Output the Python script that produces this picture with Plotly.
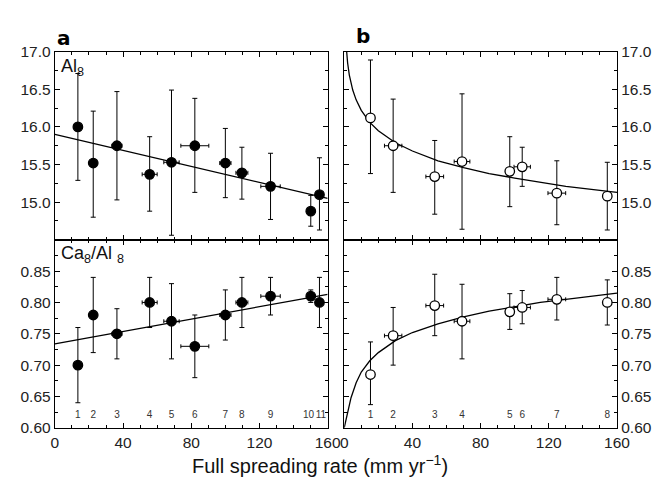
import plotly.graph_objects as go

# ---- panel a: data points (x = full spreading rate, mm/yr)
a_x = [13.5, 22.5, 36.4, 55.6, 68.4, 82.1, 100.0, 109.7, 126.5, 150.1, 155.2]
a_xerr = [0, 1.3, 3.0, 4.4, 4.5, 8.2, 3.3, 3.5, 5.7, 0, 0]
a_labels = ['1', '2', '3', '4', '5', '6', '7', '8', '9', '10', '11']
a_label_x = [13.5, 22.5, 36.4, 55.6, 68.4, 82.1, 100.0, 109.7, 126.5, 148.8, 156.0]
a_al = [16.00, 15.52, 15.75, 15.37, 15.53, 15.75, 15.52, 15.39, 15.21, 14.88, 15.10]
a_al_hi = [16.71, 16.21, 16.47, 15.87, 16.49, 16.38, 15.98, 15.73, 15.65, 15.09, 15.59]
a_al_lo = [15.29, 14.80, 15.03, 14.88, 14.56, 15.13, 15.06, 15.04, 14.77, 14.68, 14.63]
a_ca = [0.70, 0.78, 0.75, 0.80, 0.77, 0.73, 0.78, 0.80, 0.81, 0.81, 0.80]
a_ca_hi = [0.76, 0.84, 0.79, 0.84, 0.83, 0.78, 0.82, 0.84, 0.84, 0.82, 0.84]
a_ca_lo = [0.64, 0.72, 0.71, 0.76, 0.71, 0.68, 0.74, 0.76, 0.78, 0.80, 0.76]

# straight-line fits in panel a (end points)
a_fit_x = [0, 160]
a_fit_al = [15.90, 15.05]
a_fit_ca = [0.734, 0.813]

# ---- panel b
b_x = [15.4, 28.7, 53.1, 69.1, 97.1, 104.4, 124.7, 154.3]
b_xerr = [0, 5.1, 5.2, 4.6, 1.5, 4.8, 5.2, 0]
b_labels = ['1', '2', '3', '4', '5', '6', '7', '8']
b_al = [16.12, 15.75, 15.34, 15.54, 15.41, 15.47, 15.12, 15.08]
b_al_hi = [16.89, 16.37, 15.82, 16.44, 15.87, 15.73, 15.55, 15.53]
b_al_lo = [15.38, 15.13, 14.84, 14.64, 14.94, 15.21, 14.70, 14.63]
b_ca = [0.685, 0.747, 0.795, 0.770, 0.785, 0.792, 0.805, 0.800]
b_ca_hi = [0.737, 0.792, 0.845, 0.829, 0.814, 0.819, 0.840, 0.836]
b_ca_lo = [0.637, 0.700, 0.747, 0.710, 0.757, 0.766, 0.772, 0.764]

# model curves in panel b
b_al_curve_x = [0.5, 1, 2, 3, 5, 7, 10, 15, 20, 30, 40, 55, 70, 85, 100, 115, 130, 145, 160]
b_al_curve_y = [17.40, 17.12, 16.85, 16.69, 16.49, 16.36, 16.22, 16.06, 15.95, 15.79, 15.68,
                15.55, 15.46, 15.38, 15.32, 15.26, 15.21, 15.17, 15.13]
b_ca_curve_x = [0, 2, 4, 7, 10, 15, 20, 30, 40, 55, 70, 85, 100, 115, 130, 145, 160]
b_ca_curve_y = [0.600, 0.625, 0.648, 0.672, 0.689, 0.707, 0.720, 0.739, 0.752, 0.766,
                0.777, 0.786, 0.793, 0.800, 0.805, 0.810, 0.815]

FONT = 'Liberation Sans, Arial, Helvetica, sans-serif'


def pts(x, xerr, y, hi, lo, xa, ya, filled):
    return go.Scatter(
        x=x, y=y, mode='markers', xaxis=xa, yaxis=ya,
        marker=dict(size=9.5, color='black' if filled else 'white',
                    line=dict(color='black', width=1.3)),
        error_y=dict(type='data', symmetric=False,
                     array=[h - v for h, v in zip(hi, y)],
                     arrayminus=[v - l for v, l in zip(y, lo)],
                     color='black', thickness=1, width=2.5),
        error_x=dict(type='data', array=xerr, color='black', thickness=1, width=2),
        showlegend=False, hoverinfo='x+y',
    )


def line(x, y, xa, ya):
    return go.Scatter(x=x, y=y, mode='lines', xaxis=xa, yaxis=ya,
                      line=dict(color='black', width=1.3), showlegend=False,
                      hoverinfo='skip')


def nums(x, labels, ya, xa):
    return go.Scatter(x=x, y=[0.62] * len(x), text=labels, mode='text', xaxis=xa, yaxis=ya,
                      textfont=dict(size=10, color='#333', family=FONT),
                      showlegend=False, hoverinfo='skip')


fig = go.Figure()
fig.add_trace(line(a_fit_x, a_fit_al, 'x', 'y'))
fig.add_trace(pts(a_x, a_xerr, a_al, a_al_hi, a_al_lo, 'x', 'y', True))
fig.add_trace(line(a_fit_x, a_fit_ca, 'x2', 'y2'))
fig.add_trace(pts(a_x, a_xerr, a_ca, a_ca_hi, a_ca_lo, 'x2', 'y2', True))
fig.add_trace(nums(a_label_x, a_labels, 'y2', 'x2'))
fig.add_trace(line(b_al_curve_x, b_al_curve_y, 'x3', 'y3'))
fig.add_trace(pts(b_x, b_xerr, b_al, b_al_hi, b_al_lo, 'x3', 'y3', False))
fig.add_trace(line(b_ca_curve_x, b_ca_curve_y, 'x4', 'y4'))
fig.add_trace(pts(b_x, b_xerr, b_ca, b_ca_hi, b_ca_lo, 'x4', 'y4', False))
fig.add_trace(nums(b_x, b_labels, 'y4', 'x4'))

W, H = 660, 477
xl = [44 / W, 324 / W]
xr = [341 / W, 621 / W]
yt = [1 - 231 / H, 1 - 36 / H]
yb = [1 - 426 / H, 1 - 231 / H]

axis_common = dict(showline=True, linecolor='black', linewidth=1.2, mirror='allticks',
                   ticks='inside', ticklen=5, tickcolor='black', showgrid=False,
                   zeroline=False, tickfont=dict(family=FONT, size=15.5, color='#222'))


def xaxis(domain, anchor, labels):
    return dict(axis_common, domain=domain, anchor=anchor, range=[0, 160],
                tickvals=[0, 40, 80, 120, 160], showticklabels=labels,
                minor=dict(ticks='inside', ticklen=3, dtick=10, tick0=0,
                           tickcolor='black', showgrid=False))


def yaxis(domain, anchor, rng, vals, fmt, mdt, side):
    return dict(axis_common, domain=domain, anchor=anchor, range=rng, side=side,
                tickvals=vals, ticktext=[fmt.format(v) for v in vals],
                minor=dict(ticks='inside', ticklen=3, dtick=mdt, tick0=rng[0],
                           tickcolor='black', showgrid=False))


al_ticks = [15.0, 15.5, 16.0, 16.5, 17.0]
ca_ticks = [0.60, 0.65, 0.70, 0.75, 0.80, 0.85]

fig.update_layout(
    width=W, height=H, margin=dict(l=0, r=0, t=0, b=0),
    paper_bgcolor='white', plot_bgcolor='white',
    xaxis=xaxis(xl, 'y', False),
    yaxis=yaxis(yt, 'x', [14.5, 17.0], al_ticks, '{:.1f}', 0.25, 'left'),
    xaxis2=xaxis(xl, 'y2', True),
    yaxis2=yaxis(yb, 'x2', [0.60, 0.90], ca_ticks, '{:.2f}', 0.025, 'left'),
    xaxis3=xaxis(xr, 'y3', False),
    yaxis3=yaxis(yt, 'x3', [14.5, 17.0], al_ticks, '{:.1f}', 0.25, 'right'),
    xaxis4=xaxis(xr, 'y4', True),
    yaxis4=yaxis(yb, 'x4', [0.60, 0.90], ca_ticks, '{:.2f}', 0.025, 'right'),
    annotations=[
        dict(text='<b>a</b>', x=44 / W, y=1 - 7 / H, xref='paper', yref='paper',
             xanchor='left', yanchor='top', showarrow=False,
             font=dict(family='DejaVu Sans, Arial', size=20, color='black')),
        dict(text='<b>b</b>', x=351 / W, y=1 - 5 / H, xref='paper', yref='paper',
             xanchor='left', yanchor='top', showarrow=False,
             font=dict(family='DejaVu Sans, Arial', size=20, color='black')),
        dict(text='Al<sub>8</sub>', x=48 / W, y=1 - 38 / H, xref='paper', yref='paper',
             xanchor='left', yanchor='top', showarrow=False,
             font=dict(family=FONT, size=18, color='#111')),
        dict(text='Ca<sub>8</sub>/Al <sub>8</sub>', x=48 / W, y=1 - 232 / H,
             xref='paper', yref='paper', xanchor='left', yanchor='top', showarrow=False,
             font=dict(family=FONT, size=18, color='#111')),
        dict(text='Full spreading rate (mm yr<sup>\u22121</sup>)', x=316 / W, y=1 - 464 / H,
             xref='paper', yref='paper', xanchor='center', yanchor='middle', showarrow=False,
             font=dict(family=FONT, size=20, color='#111')),
    ],
)

fig.write_html('out.html')
